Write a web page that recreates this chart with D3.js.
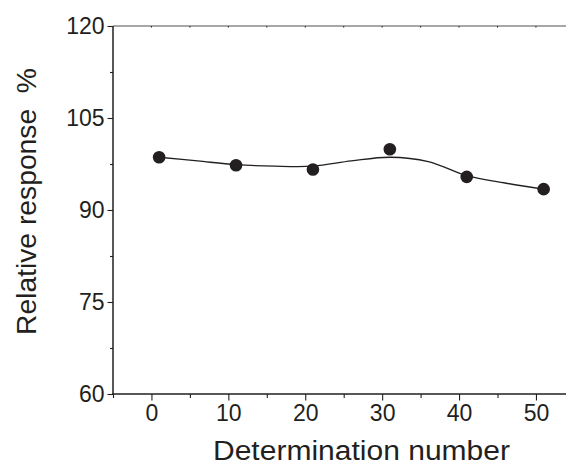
<!DOCTYPE html>
<html>
<head>
<meta charset="utf-8">
<script src="https://cdn.jsdelivr.net/npm/d3@7"></script>
<style>
  body { margin: 0; background: #fff; }
  svg text { font-family: "Liberation Sans", Arial, sans-serif; fill: #231f20; }
</style>
</head>
<body>
<svg id="vis" width="566" height="465"></svg>
<script>
// measured points
const determination = [1, 11, 21, 31, 41, 51]
const response = [98.6, 97.3, 96.6, 99.9, 95.4, 93.4]

// smooth fitted curve
const fitX = [1, 6, 11, 16, 21, 26, 31, 36, 41, 46, 51]
const fitY = [98.6, 98.0, 97.4, 97.15, 97.15, 98.0, 98.6, 97.9, 95.6, 94.4, 93.4]

const xTicks = [0, 10, 20, 30, 40, 50]
const yTicks = [60, 75, 90, 105, 120]

const ink = "#231f20"
const vis = d3.select("#vis")

const x = d3.scaleLinear().domain([-5, 55]).range([113, 574.4])
const y = d3.scaleLinear().domain([60, 120]).range([394, 26])

// top frame line (grey, small inward ticks)
vis.append("line")
  .attr("x1", 113).attr("x2", 566).attr("y1", y(120)).attr("y2", y(120))
  .attr("stroke", "#8a8a8a").attr("stroke-width", 1.6)
vis.append("g").selectAll("line")
  .data(d3.range(0, 55, 5))
  .join("line")
  .attr("x1", d => x(d)).attr("x2", d => x(d))
  .attr("y1", y(120)).attr("y2", y(120) + 1.5)
  .attr("stroke", ink).attr("stroke-width", 1)

// bottom axis
const xAxis = vis.append("g").attr("transform", `translate(0,${y(60)})`)
  .call(d3.axisBottom(x).tickValues(xTicks).tickSize(6.5).tickPadding(4).tickSizeOuter(0))
xAxis.append("g")
  .call(d3.axisBottom(x).tickValues(d3.range(-5, 55, 10)).tickSize(4).tickFormat(""))
xAxis.selectAll(".domain").remove()
xAxis.append("line").attr("x1", 112).attr("x2", 566).attr("stroke", ink).attr("stroke-width", 1.5)

// left axis
const yAxis = vis.append("g").attr("transform", `translate(${x(-5)},0)`)
  .call(d3.axisLeft(y).tickValues(yTicks).tickSize(5.5).tickPadding(3).tickSizeOuter(0))
yAxis.append("g")
  .call(d3.axisLeft(y).tickValues([67.5, 82.5, 97.5, 112.5]).tickSize(3).tickFormat(""))
yAxis.selectAll(".domain").remove()
yAxis.append("line").attr("y1", y(120)).attr("y2", y(60) + 0.75).attr("stroke", ink).attr("stroke-width", 1.5)

vis.selectAll(".tick line").attr("stroke", ink).attr("stroke-width", 1.1)
vis.selectAll(".tick text").attr("font-size", 23).attr("fill", ink)

// fitted curve
vis.append("path")
  .datum(fitX.map((d, i) => [d, fitY[i]]))
  .attr("fill", "none").attr("stroke", ink).attr("stroke-width", 1.3)
  .attr("d", d3.line().x(d => x(d[0])).y(d => y(d[1])).curve(d3.curveCatmullRom))

// points
vis.selectAll(".pt")
  .data(determination)
  .join("circle")
  .attr("class", "pt")
  .attr("cx", d => x(d))
  .attr("cy", (d, i) => y(response[i]))
  .attr("r", 6.3)
  .attr("fill", ink)

// axis titles
vis.append("text")
  .attr("x", 361.5).attr("y", 460)
  .attr("text-anchor", "middle").attr("font-size", 27)
  .attr("textLength", 297).attr("lengthAdjust", "spacingAndGlyphs")
  .text("Determination number")

vis.append("text")
  .attr("transform", "translate(36,201.5) rotate(-90)")
  .attr("text-anchor", "middle").attr("font-size", 27)
  .attr("xml:space", "preserve")
  .attr("textLength", 267).attr("lengthAdjust", "spacingAndGlyphs")
  .text("Relative response  %")
</script>
</body>
</html>
